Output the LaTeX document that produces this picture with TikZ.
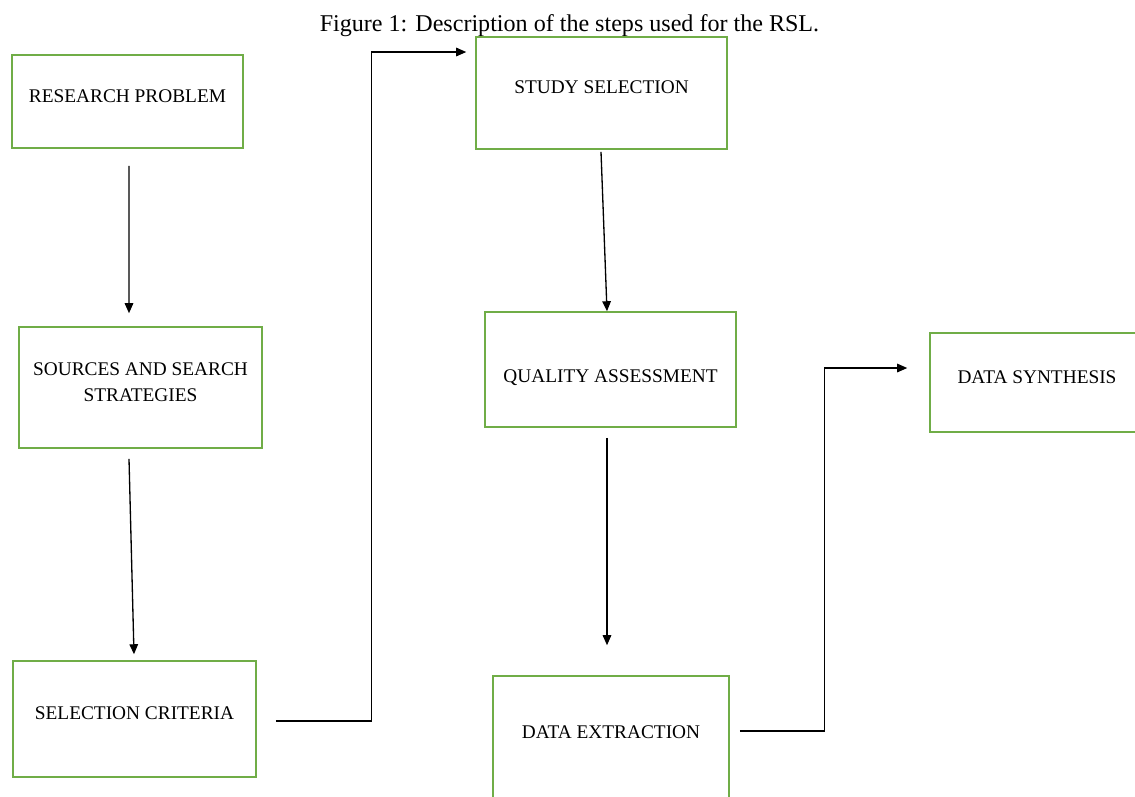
\documentclass[tikz,border=0pt]{standalone}
\usepackage{fontspec}
\setmainfont{Liberation Serif}
\usetikzlibrary{calc,arrows.meta}
\definecolor{stepgreen}{HTML}{70AD47}

\begin{document}
\begin{tikzpicture}[x=0.02cm, y=-0.02cm,
  stepbox/.style={draw=stepgreen, line width=0.9pt, inner sep=0pt, align=center,
    font=\fontsize{11}{14.8}\selectfont, text height=0.26cm, text depth=0.24cm},
  flow/.style={line width=0.75pt, -{Triangle[length=2mm,width=1.7mm]}}]

  \useasboundingbox (0,0) rectangle (1135,796);

  \node[anchor=base, font=\fontsize{13.7}{16}\selectfont] (title) at (569.5,31) {Figure 1: Description of the steps used for the RSL.};

  % left column
  \node (prob)  [stepbox, minimum width=4.62cm, minimum height=1.86cm] at (127.5,101.5) {RESEARCH PROBLEM};
  \node (src)   [stepbox, minimum width=4.86cm, minimum height=2.42cm, text height=0.78cm] at (140.5,387.5) {SOURCES AND SEARCH\\STRATEGIES};
  \node (crit)  [stepbox, minimum width=4.86cm, minimum height=2.32cm] at (134.5,719) {SELECTION CRITERIA};

  % middle column
  \node (study) [stepbox, minimum width=5.02cm, minimum height=2.24cm] at (601.5,93) {STUDY SELECTION};
  \node (qual)  [stepbox, minimum width=5.02cm, minimum height=2.30cm, text height=0.52cm, text depth=0cm] at (610.5,369.5) {QUALITY ASSESSMENT};
  \node (extr)  [stepbox, minimum width=4.72cm, minimum height=2.48cm] at (611,738) {DATA EXTRACTION};

  % right
  \node (synth) [stepbox, minimum width=4.28cm, minimum height=1.98cm] at (1037,382.5) {DATA SYNTHESIS};

  \draw[flow] ($(prob.south)+(1.5,17)$) -- ($(src.north)+(-11.5,-13)$);
  \draw[flow] ($(src.south)+(-11.5,10)$) -- ($(crit.north)+(-0.5,-6)$);
  \draw[flow] ($(crit.east)+(19,2)$) -- ++(96,0) |- ($(study.west)+(-9,-41)$);
  \draw[flow] ($(study.south)+(-0.5,2)$) -- ($(qual.north)+(-3.5,0)$);
  \draw[flow] ($(qual.south)+(-3.5,10)$) -- ($(extr.north)+(-4,-30)$);
  \draw[flow] ($(extr.east)+(10,-7)$) -- ++(85,0) |- ($(synth.west)+(-22,-14.5)$);
\end{tikzpicture}
\end{document}
